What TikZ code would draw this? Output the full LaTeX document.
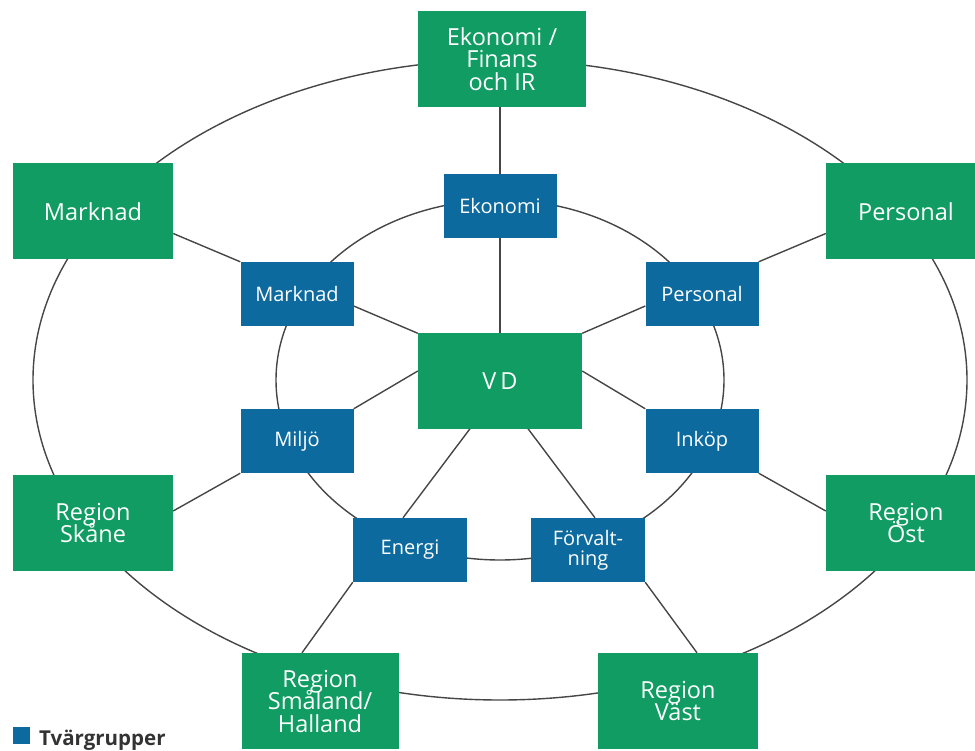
\documentclass[tikz,border=0pt]{standalone}
\usepackage{fontspec}
\setmainfont{Open Sans}
\usetikzlibrary{backgrounds}
\definecolor{grn}{RGB}{16,156,98}
\definecolor{blu}{RGB}{12,106,158}
\definecolor{ln}{RGB}{70,70,70}
\newcommand\mytightlines{\lineskiplimit=-20pt\relax\lineskip=0pt\relax}
\begin{document}
\begin{tikzpicture}[x=1pt,y=-1pt,
  gbox/.style={fill=grn, text=white, minimum width=160pt, minimum height=96pt,
    inner sep=0pt, align=center,
    font=\fontsize{23.5}{22.5}\selectfont\mytightlines},
  bbox/.style={fill=blu, text=white, minimum width=113pt, minimum height=64pt,
    inner sep=0pt, align=center,
    font=\fontsize{20}{20}\selectfont\mytightlines},
  conn/.style={draw=ln, line width=1.4pt}]
\useasboundingbox (0,0) rectangle (975,751);
% outer (green) boxes
\node[gbox, minimum width=168pt] (eko) at (502,59) {Ekonomi /\\Finans\\och IR};
\node[gbox] (mko) at (93,211.5) {Marknad};
\node[gbox] (pko) at (906,211.5) {Personal};
\node[gbox, minimum width=164pt, minimum height=95pt] (vd) at (500,381) {V\,D};
\node[gbox] (rsk) at (93,523) {Region\\Skåne};
\node[gbox] (roe) at (906,523) {Region\\Öst};
\node[gbox, minimum width=157pt] (rsm) at (320,701) {Region\\Småland/\\Halland};
\node[gbox] (rva) at (678,701) {Region\\Väst};
% inner (blue) boxes
\node[bbox] (ekb) at (500,206) {Ekonomi};
\node[bbox] (mkb) at (297,294) {Marknad};
\node[bbox] (pkb) at (702,294) {Personal};
\node[bbox] (mil) at (297,441) {Miljö};
\node[bbox] (ink) at (702,441) {Inköp};
\node[bbox, minimum width=114pt] (ene) at (410,550) {Energi};
\node[bbox, minimum width=114pt] (fov) at (588,550) {Förvalt-\\ning};
% legend
\node[fill=blu, minimum size=17pt, inner sep=0pt] (lgb) at (21.5,735.5) {};
\node[anchor=base west, inner sep=0pt, text=black!80,
  font=\bfseries\fontsize{20.5}{20.5}\selectfont] (lgt) at (39,745) {Tvärgrupper};
\begin{scope}[on background layer]
  \draw[conn] (500,380) ellipse [x radius=467pt, y radius=320pt];
  \draw[conn] (500,380) ellipse [x radius=224pt, y radius=180pt];
  \draw[conn] (ekb.north) -- (ekb.north |- eko.south);
  \draw[conn] (vd.north -| ekb.south) -- (ekb.south);
  \draw[conn] ([yshift=-22pt]mko.east) -- (mkb.north west);
  \draw[conn] ([yshift=-12pt]mkb.east) -- (vd.north west);
  \draw[conn] ([yshift=-22pt]pko.west) -- (pkb.north east);
  \draw[conn] ([yshift=-12pt]pkb.west) -- (vd.north east);
  \draw[conn] ([yshift=10pt]vd.west) -- (mil.north east);
  \draw[conn] ([yshift=10pt]vd.east) -- (ink.north west);
  \draw[conn] (mil.south west) -- ([yshift=12pt]rsk.east);
  \draw[conn] (ink.south east) -- ([yshift=12pt]roe.west);
  \draw[conn] ([xshift=-30pt]vd.south) -- ([xshift=-7pt]ene.north);
  \draw[conn] ([xshift=28pt]vd.south) -- ([xshift=7pt]fov.north);
  \draw[conn] (ene.south west) -- ([xshift=-18pt]rsm.north);
  \draw[conn] (fov.south east) -- ([xshift=19pt]rva.north);
\end{scope}
\end{tikzpicture}
\end{document}
